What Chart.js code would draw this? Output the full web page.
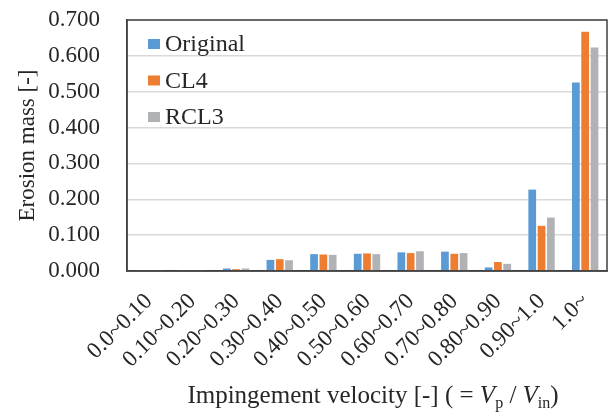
<!DOCTYPE html>
<html>
<head>
<meta charset="utf-8">
<script src="https://cdn.jsdelivr.net/npm/chart.js@4.4.0/dist/chart.umd.min.js"></script>
<style>
  html, body { margin: 0; padding: 0; background: #ffffff; }
  #wrap { width: 612px; height: 412px; position: relative; }
</style>
</head>
<body>
<div id="wrap"><canvas id="c" width="612" height="412"></canvas></div>
<script>
const categories = ["0.0~0.10", "0.10~0.20", "0.20~0.30", "0.30~0.40", "0.40~0.50", "0.50~0.60", "0.60~0.70", "0.70~0.80", "0.80~0.90", "0.90~1.0", "1.0~"];
const seriesNames = ["Original", "CL4", "RCL3"];
const originalValues = [0.001, 0.001, 0.007, 0.031, 0.047, 0.048, 0.052, 0.054, 0.010, 0.227, 0.526];
const cl4Values      = [0.001, 0.001, 0.005, 0.033, 0.046, 0.049, 0.050, 0.048, 0.025, 0.126, 0.667];
const rcl3Values     = [0.001, 0.001, 0.007, 0.030, 0.045, 0.047, 0.055, 0.050, 0.020, 0.149, 0.623];
const yTickValues = [0, 0.1, 0.2, 0.3, 0.4, 0.5, 0.6, 0.7];
const yAxisTitle = "Erosion mass [-]";
const xAxisTitleParts = [
  { t: "Impingement velocity [-] ( = ", s: "normal" },
  { t: "V", s: "italic" },
  { t: "p", s: "sub" },
  { t: " / ", s: "normal" },
  { t: "V", s: "italic" },
  { t: "in", s: "sub" },
  { t: ")", s: "normal" }
];

const colors = ["#5B9BD5", "#ED7D31", "#B1B2B5"];
const FONT = "'Liberation Serif', 'Times New Roman', serif";
const TEXT = "#262626";

const legendPlugin = {
  id: 'insideLegend',
  afterDatasetsDraw(chart) {
    const ctx = chart.ctx;
    const area = chart.chartArea;
    ctx.save();
    chart.data.datasets.forEach((ds, i) => {
      const y = area.top + 24 + i * 36.5;
      ctx.fillStyle = ds.backgroundColor;
      ctx.fillRect(area.left + 21, y - 5, 12, 10);
      ctx.fillStyle = TEXT;
      ctx.font = "24px " + FONT;
      ctx.textBaseline = "middle";
      ctx.textAlign = "left";
      ctx.fillText(ds.label, area.left + 38, y + 1);
    });
    ctx.restore();
  }
};

const frameAndTitlePlugin = {
  id: 'frameAndTitle',
  afterDraw(chart) {
    const ctx = chart.ctx;
    const a = chart.chartArea;
    ctx.save();
    ctx.strokeStyle = "#404040";
    ctx.lineWidth = 1.5;
    ctx.strokeRect(a.left, a.top, a.right - a.left, a.bottom - a.top);
    // x-axis title with italic/subscript parts
    const size = 25;
    const fonts = {
      normal: size + "px " + FONT,
      italic: "italic " + size + "px " + FONT,
      sub: Math.round(size * 0.65) + "px " + FONT
    };
    let total = 0;
    xAxisTitleParts.forEach(p => { ctx.font = fonts[p.s]; total += ctx.measureText(p.t).width; });
    let x = 373 - total / 2;
    const baseY = 403;
    ctx.fillStyle = TEXT;
    ctx.textBaseline = "alphabetic";
    ctx.textAlign = "left";
    xAxisTitleParts.forEach(p => {
      ctx.font = fonts[p.s];
      ctx.fillText(p.t, x, p.s === "sub" ? baseY + 5 : baseY);
      x += ctx.measureText(p.t).width;
    });
    ctx.restore();
  }
};

const datasetValues = [originalValues, cl4Values, rcl3Values];

new Chart(document.getElementById('c'), {
  type: 'bar',
  data: {
    labels: categories,
    datasets: seriesNames.map((name, i) => ({
      label: name,
      data: datasetValues[i],
      backgroundColor: colors[i],
      borderWidth: 0,
      barPercentage: 0.83,
      categoryPercentage: 0.64
    }))
  },
  options: {
    responsive: false,
    animation: false,
    devicePixelRatio: 1,
    layout: { padding: { left: 0, right: 5, top: 20, bottom: 0 } },
    plugins: {
      legend: { display: false },
      tooltip: { enabled: false }
    },
    scales: {
      x: {
        grid: { display: false, drawTicks: false },
        border: { display: true, color: "#404040", width: 1.5 },
        ticks: {
          color: TEXT,
          font: { family: FONT, size: 23 },
          minRotation: 45,
          maxRotation: 45,
          padding: 17,
          autoSkip: false
        },
        afterFit(scale) {
          scale.height = 141;
          scale.paddingLeft = 0;
          scale.paddingRight = 0;
        }
      },
      y: {
        min: 0,
        max: 0.7,
        afterBuildTicks(scale) { scale.ticks = yTickValues.map(v => ({ value: v })); },
        grid: { color: "#D9D9D9", lineWidth: 1.5, drawTicks: false },
        border: { display: true, color: "#404040", width: 1.5 },
        ticks: {
          color: TEXT,
          font: { family: FONT, size: 23 },
          padding: 27,
          callback: v => Number(v).toFixed(3)
        },
        title: {
          display: true,
          text: yAxisTitle,
          color: TEXT,
          font: { family: FONT, size: 23 },
          padding: { top: 14, bottom: 0 }
        },
        afterFit(scale) {
          scale.width = 127;
          scale.paddingTop = 0;
          scale.paddingBottom = 0;
        }
      }
    }
  },
  plugins: [legendPlugin, frameAndTitlePlugin]
});
</script>
</body>
</html>
